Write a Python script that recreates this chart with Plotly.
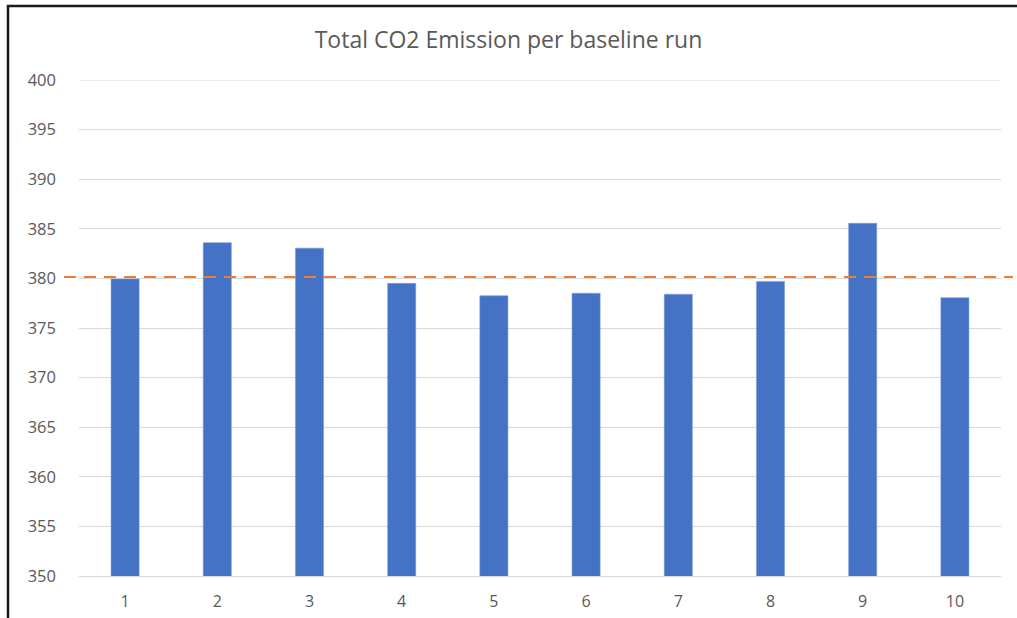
import plotly.graph_objects as go

runs = ["1", "2", "3", "4", "5", "6", "7", "8", "9", "10"]
co2_emission = [379.95, 383.6, 383.05, 379.5, 378.25, 378.5, 378.4, 379.7, 385.55, 378.05]
baseline_mean = 380.15
y_ticks = [350, 355, 360, 365, 370, 375, 380, 385, 390, 395, 400]
title_text = "Total CO2 Emission per baseline run"

W, H = 1017, 618
L, R, T, B = 79, 16, 80, 42
pw, ph = W - L - R, H - T - B


def px_x(p):
    return (p - L) / pw


def px_y(p):
    return (H - B - p) / ph


fig = go.Figure()
fig.add_trace(go.Bar(
    x=runs, y=co2_emission,
    marker=dict(color="#4472C4", line=dict(color="#7d9edb", width=0.6)),
    showlegend=False,
))

font_family = "'Open Sans', Lato, sans-serif"
grey = "#595959"

fig.update_layout(
    width=W, height=H,
    margin=dict(l=L, r=R, t=T, b=B, autoexpand=False),
    paper_bgcolor="white", plot_bgcolor="white",
    bargap=0.695,
    font=dict(family=font_family, color=grey, size=16),
    title=dict(text=title_text, x=0.5, xanchor="center", y=1 - 40 / H, yanchor="middle",
               font=dict(size=23, color=grey, family=font_family)),
    xaxis=dict(type="category", showgrid=False, showline=True, linecolor="#d9d9d9", linewidth=1,
               automargin=False,
               ticks="", tickfont=dict(size=16, color=grey), ticklabelstandoff=11),
    yaxis=dict(range=[y_ticks[0], y_ticks[-1]], tickvals=y_ticks, showgrid=True, gridcolor="#d9d9d9",
               gridwidth=1, automargin=False,
               zeroline=False, ticks="", tickfont=dict(size=16.5, color=grey), ticklabelstandoff=22),
    shapes=[
        dict(type="line", xref="paper", yref="y", x0=0, x1=1, y0=y_ticks[-1], y1=y_ticks[-1],
             line=dict(color="#d9d9d9", width=1), layer="below"),
        dict(type="line", xref="paper", yref="y", x0=px_x(64), x1=px_x(1013),
             y0=baseline_mean, y1=baseline_mean,
             line=dict(color="#ED7D31", width=2, dash="12px,8px"), layer="above"),
        dict(type="line", xref="paper", yref="paper", x0=px_x(8), x1=px_x(8), y0=px_y(5), y1=px_y(H + 5),
             line=dict(color="#1a1a1a", width=2.5)),
        dict(type="line", xref="paper", yref="paper", x0=px_x(7), x1=px_x(W + 5), y0=px_y(6), y1=px_y(6),
             line=dict(color="#1a1a1a", width=2.5)),
    ],
)

fig.write_html("out.html", config={"displayModeBar": False},
               post_script="document.body.style.margin='0';document.body.style.overflow='hidden';")
